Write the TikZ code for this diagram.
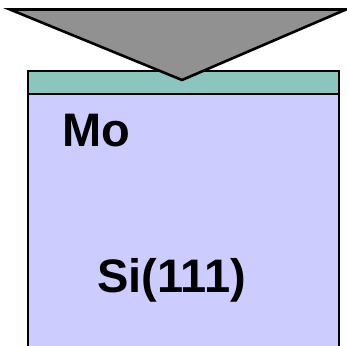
\documentclass[tikz,border=0pt]{standalone}
\usepackage{fontspec}
\setmainfont{Liberation Sans}
\definecolor{substrate}{RGB}{204,204,255}
\definecolor{film}{RGB}{139,198,190}
\definecolor{tipgray}{RGB}{145,145,145}
\begin{document}
\begin{tikzpicture}[x=1pt,y=1pt,
  outline/.style={draw=black,line width=2.6pt,line join=miter},
  label/.style={font=\fontsize{47}{50}\selectfont\bfseries,inner sep=0pt,anchor=base west}]
\useasboundingbox (0,0) rectangle (347,345);
\begin{scope}
\clip (0,0) rectangle (347,345);
% silicon substrate (open at the bottom)
\draw[outline,fill=substrate] (28,-10) -- (28,251) -- (339,251) -- (339,-10);
% molybdenum film
\draw[outline,fill=film] (28,251) rectangle (339,274);
% indenter tip
\draw[outline,fill=tipgray] (10,335.5) -- (346,335.5) -- (182,265) -- cycle;
\end{scope}
\node[label] (mo) at (62,198) {Mo};
\node[label] (si) at (97,53) {Si(111)};
\end{tikzpicture}
\end{document}
